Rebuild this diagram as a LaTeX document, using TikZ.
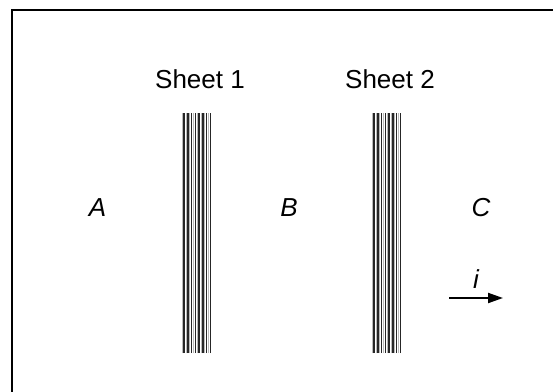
\documentclass[tikz,border=0pt]{standalone}
\usepackage{fontspec}
\setmainfont{Liberation Sans}
\usetikzlibrary{positioning, arrows.meta}

\tikzset{
	sheetbox/.style={minimum width=30pt, minimum height=240pt, inner sep=0pt},
	region/.style={inner sep=0pt, font=\fontsize{26}{31}\selectfont\itshape},
}

\begin{document}
\begin{tikzpicture}[x=1pt, y=-1pt, font=\fontsize{26}{31}\selectfont]
	\clip (0,0) rectangle (553,391);
	\draw[line width=2.2pt] (12,10) rectangle (600,450);
		\foreach[count=\i] \sx in {197,387} {
			\node[sheetbox] (sheet-\i) at (\sx,233) {};
			\foreach \k in {0,...,7} {
				\draw[gray!55, line width=1pt] ([xshift=0.6pt+\k*3.75pt]sheet-\i.south west) -- ([xshift=0.6pt+\k*3.75pt]sheet-\i.north west);
				\draw[black!85, line width=1.7pt] ([xshift=2.3pt+\k*3.75pt]sheet-\i.south west) -- ([xshift=2.3pt+\k*3.75pt]sheet-\i.north west);
			}
			\node[inner sep=0pt, above=24pt of sheet-\i, xshift=3pt] (label-\i) {Sheet \i};
		}
	\node[region] (region-A) at (97.5,208) {A};
	\node[region] (region-B) at (289,208) {B};
	\node[region] (region-C) at (481,208) {C};
	\coordinate (i-start) at (449,298);
	\coordinate (i-end) at (503,298);
	\draw[line width=2pt, -{Stealth[length=15pt, width=10pt, inset=0pt]}] (i-start) -- (i-end) node[region, midway, above=9pt] (current-i) {i};
\end{tikzpicture}
\end{document}
